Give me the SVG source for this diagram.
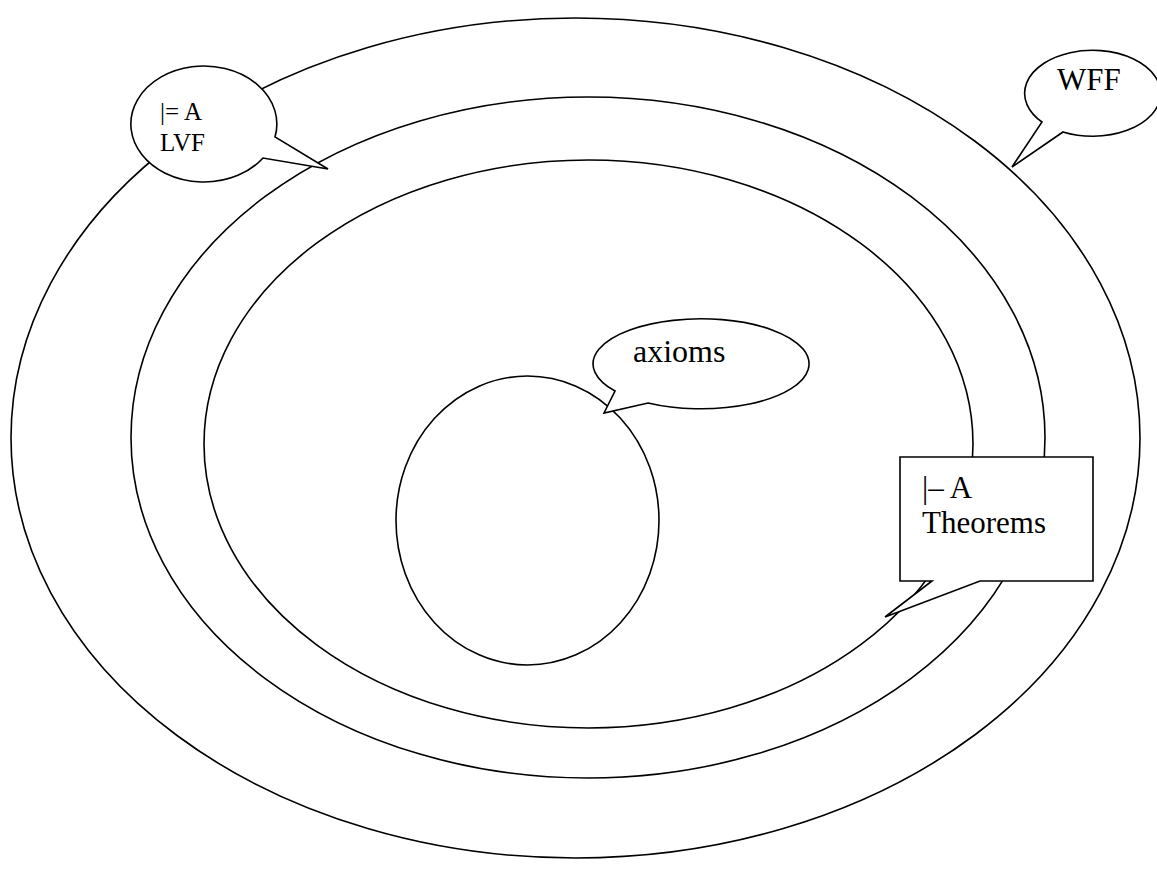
<svg xmlns="http://www.w3.org/2000/svg" width="1157" height="874" viewBox="0 0 1157 874">
<style>
.s{fill:none;stroke:#000;stroke-width:1.6}
.c{fill:#fff;stroke:#000;stroke-width:1.6;stroke-linejoin:miter}
.t{font-family:"Liberation Serif","Times New Roman",serif;fill:#000}
</style>
<rect width="1157" height="874" fill="#fff"/>
<g id="sets">
<ellipse id="wff-set" class="s" cx="575.5" cy="438" rx="564.5" ry="420"/>
<ellipse id="lvf-set" class="s" cx="588" cy="437.5" rx="457" ry="340.5"/>
<ellipse id="theorems-set" class="s" cx="588.5" cy="444" rx="384.5" ry="284"/>
<ellipse id="axioms-set" class="s" cx="527.5" cy="520.5" rx="131.5" ry="144.5"/>
</g>
<g id="lvf-callout">
<path class="c" d="M275,137 A73,58 0 1 0 263,158 L328,169 Z"/>
<text class="t" x="160" y="120" font-size="25">|= A</text>
<text class="t" x="160" y="151" font-size="25">LVF</text>
</g>
<g id="wff-callout">
<path class="c" d="M1042,122 A68,43 0 1 1 1063,132 L1012,167 Z"/>
<text class="t" x="1057" y="90" font-size="31">WFF</text>
</g>
<g id="axioms-callout">
<path class="c" d="M615,391 A108,45 0 1 1 648,403 L604,413 Z"/>
<text class="t" x="633" y="362" font-size="32">axioms</text>
</g>
<g id="theorems-callout">
<path class="c" d="M900,457 H1093 V581 H980 L885,617 L932,581 H900 Z"/>
<text class="t" x="922" y="498" font-size="31">|– A</text>
<text class="t" x="922" y="533" font-size="31">Theorems</text>
</g>
</svg>
